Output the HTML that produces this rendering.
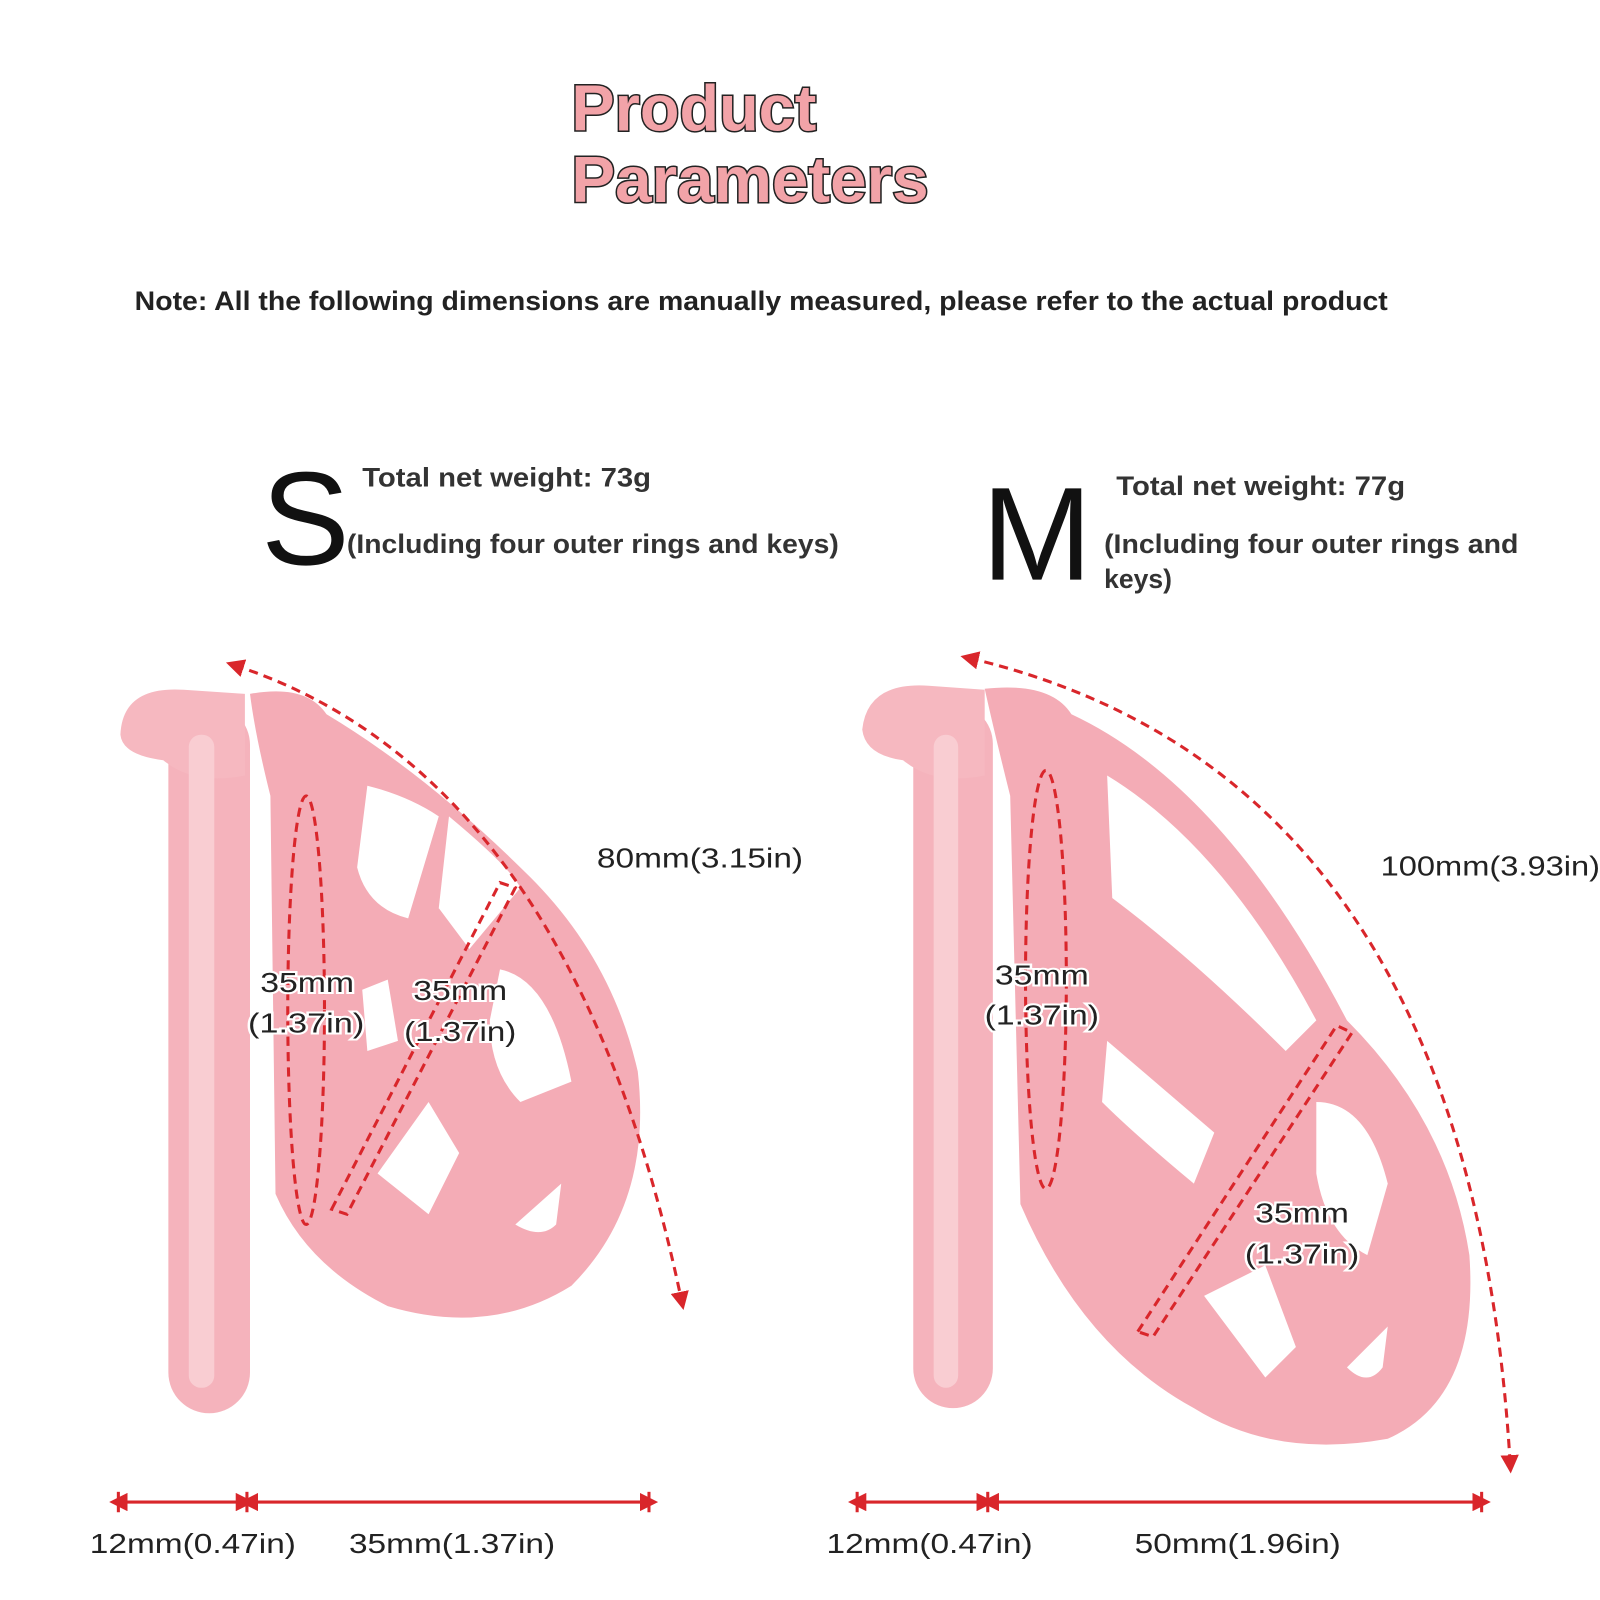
<!DOCTYPE html>
<html><head><meta charset="utf-8"><style>
html,body{margin:0;padding:0;background:#fff;width:1600px;height:1600px;overflow:hidden}
text{font-family:"Liberation Sans","DejaVu Sans",sans-serif}
</style></head><body>
<svg width="1600" height="1600" viewBox="0 0 1568 1568" xmlns="http://www.w3.org/2000/svg">
<defs>
<marker id="ah" viewBox="0 0 10 10" refX="5" refY="5" markerWidth="6" markerHeight="6" orient="auto-start-reverse"><path d="M0,0 L10,5 L0,10 z" fill="#d9262b"/></marker>
</defs>
<rect width="1568" height="1568" fill="#fff"/>
<g font-weight="bold" font-size="64" fill="#f2a3a8" stroke="#222" stroke-width="3" paint-order="stroke">
<text x="560" y="128" textLength="240" lengthAdjust="spacingAndGlyphs">Product</text>
<text x="560" y="198" textLength="350" lengthAdjust="spacingAndGlyphs">Parameters</text>
</g>
<text x="132" y="304" font-size="26" font-weight="bold" fill="#222" textLength="1228" lengthAdjust="spacingAndGlyphs">Note: All the following dimensions are manually measured, please refer to the actual product</text>

<text x="256" y="553" font-size="130" fill="#111">S</text>
<text x="355" y="477" font-size="26" font-weight="bold" fill="#333" textLength="283" lengthAdjust="spacingAndGlyphs">Total net weight: 73g</text>
<text x="340" y="542" font-size="26" font-weight="bold" fill="#333" textLength="482" lengthAdjust="spacingAndGlyphs">(Including four outer rings and keys)</text>
<text x="962" y="568" font-size="130" fill="#111">M</text>
<text x="1094" y="485" font-size="26" font-weight="bold" fill="#333" textLength="283" lengthAdjust="spacingAndGlyphs">Total net weight: 77g</text>
<text x="1082" y="542" font-size="26" font-weight="bold" fill="#333" textLength="406" lengthAdjust="spacingAndGlyphs">(Including four outer rings and</text>
<text x="1082" y="576" font-size="26" font-weight="bold" fill="#333">keys)</text>

<!-- S device -->
<g>
<rect x="165" y="690" width="80" height="695" rx="40" fill="#f5b3bc"/>
<path d="M118,720 Q120,672 180,676 L240,680 L240,760 Q190,770 160,745 Q120,740 118,720z" fill="#f6b8c0"/>
<rect x="185" y="720" width="25" height="640" rx="12" fill="#f9cdd2"/>
<path d="M245,680 Q300,670 320,700 Q420,760 520,860 Q600,940 625,1050 Q640,1180 560,1260 Q480,1310 380,1280 Q300,1240 270,1170 L265,780 Q250,720 245,680z" fill="#f4acb6"/>
<path d="M360,770 Q400,780 430,800 L400,900 Q360,890 350,850z" fill="#fff"/>
<path d="M440,800 Q500,850 510,870 L460,930 L430,890z" fill="#fff"/>
<path d="M490,950 Q540,960 560,1060 L510,1080 Q480,1050 480,1000z" fill="#fff"/>
<path d="M370,1150 L420,1080 L450,1130 L420,1190z" fill="#fff"/>
<path d="M505,1200 L550,1160 L545,1200 Q530,1215 505,1200z" fill="#fff"/>
<path d="M355,970 L380,960 L390,1020 L360,1030z" fill="#fff"/>
</g>
<!-- M device -->
<g>
<rect x="895" y="690" width="78" height="690" rx="39" fill="#f5b3bc"/>
<path d="M845,715 Q850,668 910,672 L965,676 L965,760 Q915,770 885,745 Q848,740 845,715z" fill="#f6b8c0"/>
<rect x="915" y="720" width="24" height="640" rx="12" fill="#f9cdd2"/>
<path d="M965,675 Q1030,668 1050,700 Q1200,770 1320,1000 Q1420,1100 1440,1230 Q1450,1370 1360,1410 Q1250,1430 1170,1380 Q1060,1320 1000,1180 L990,780 Q975,720 965,675z" fill="#f4acb6"/>
<path d="M1085,760 Q1200,830 1290,1000 L1260,1030 Q1170,940 1090,880z" fill="#fff"/>
<path d="M1085,1020 L1190,1110 L1170,1160 Q1110,1110 1080,1080z" fill="#fff"/>
<path d="M1290,1080 Q1340,1080 1360,1160 L1340,1230 Q1300,1210 1290,1150z" fill="#fff"/>
<path d="M1180,1270 L1240,1240 L1270,1320 L1240,1350z" fill="#fff"/>
<path d="M1320,1340 L1360,1300 L1355,1340 Q1340,1360 1320,1340z" fill="#fff"/>
</g>

<g fill="none" stroke="#d9262b" stroke-width="3" stroke-dasharray="9,6">
<path d="M230,652 Q560,760 668,1275" marker-start="url(#ah)" marker-end="url(#ah)"/>
<ellipse cx="300" cy="990" rx="18" ry="210"/>
<path d="M325,1185 L490,865 L505,870 L340,1190z"/>
<path d="M950,645 Q1440,760 1480,1435" marker-start="url(#ah)" marker-end="url(#ah)"/>
<ellipse cx="1025" cy="960" rx="20" ry="205"/>
<path d="M1115,1305 L1310,1005 L1325,1012 L1130,1310z"/>
</g>
<g fill="none" stroke="#d9262b" stroke-width="3">
<line x1="116" y1="1472" x2="240" y2="1472" marker-start="url(#ah)" marker-end="url(#ah)"/>
<line x1="244" y1="1472" x2="636" y2="1472" marker-start="url(#ah)" marker-end="url(#ah)"/>
<line x1="840" y1="1472" x2="966" y2="1472" marker-start="url(#ah)" marker-end="url(#ah)"/>
<line x1="970" y1="1472" x2="1452" y2="1472" marker-start="url(#ah)" marker-end="url(#ah)"/>
<line x1="116" y1="1462" x2="116" y2="1482"/><line x1="242" y1="1462" x2="242" y2="1482"/><line x1="636" y1="1462" x2="636" y2="1482"/>
<line x1="840" y1="1462" x2="840" y2="1482"/><line x1="968" y1="1462" x2="968" y2="1482"/><line x1="1452" y1="1462" x2="1452" y2="1482"/>
</g>
<g font-size="27" fill="#222" stroke="#fff" stroke-width="4" paint-order="stroke" lengthAdjust="spacingAndGlyphs">
<text x="585" y="850" textLength="202" lengthAdjust="spacingAndGlyphs">80mm(3.15in)</text>
<text x="1353" y="858" textLength="215" lengthAdjust="spacingAndGlyphs">100mm(3.93in)</text>
<text x="255" y="972" textLength="92" lengthAdjust="spacingAndGlyphs">35mm</text><text x="243" y="1012" textLength="114" lengthAdjust="spacingAndGlyphs">(1.37in)</text>
<text x="405" y="980" textLength="92" lengthAdjust="spacingAndGlyphs">35mm</text><text x="396" y="1020" textLength="110" lengthAdjust="spacingAndGlyphs">(1.37in)</text>
<text x="975" y="965" textLength="92" lengthAdjust="spacingAndGlyphs">35mm</text><text x="965" y="1004" textLength="112" lengthAdjust="spacingAndGlyphs">(1.37in)</text>
<text x="1230" y="1198" textLength="92" lengthAdjust="spacingAndGlyphs">35mm</text><text x="1220" y="1238" textLength="112" lengthAdjust="spacingAndGlyphs">(1.37in)</text>
<text x="88" y="1522" textLength="202" lengthAdjust="spacingAndGlyphs">12mm(0.47in)</text>
<text x="342" y="1522" textLength="202" lengthAdjust="spacingAndGlyphs">35mm(1.37in)</text>
<text x="810" y="1522" textLength="202" lengthAdjust="spacingAndGlyphs">12mm(0.47in)</text>
<text x="1112" y="1522" textLength="202" lengthAdjust="spacingAndGlyphs">50mm(1.96in)</text>
</g>
</svg>
</body></html>
